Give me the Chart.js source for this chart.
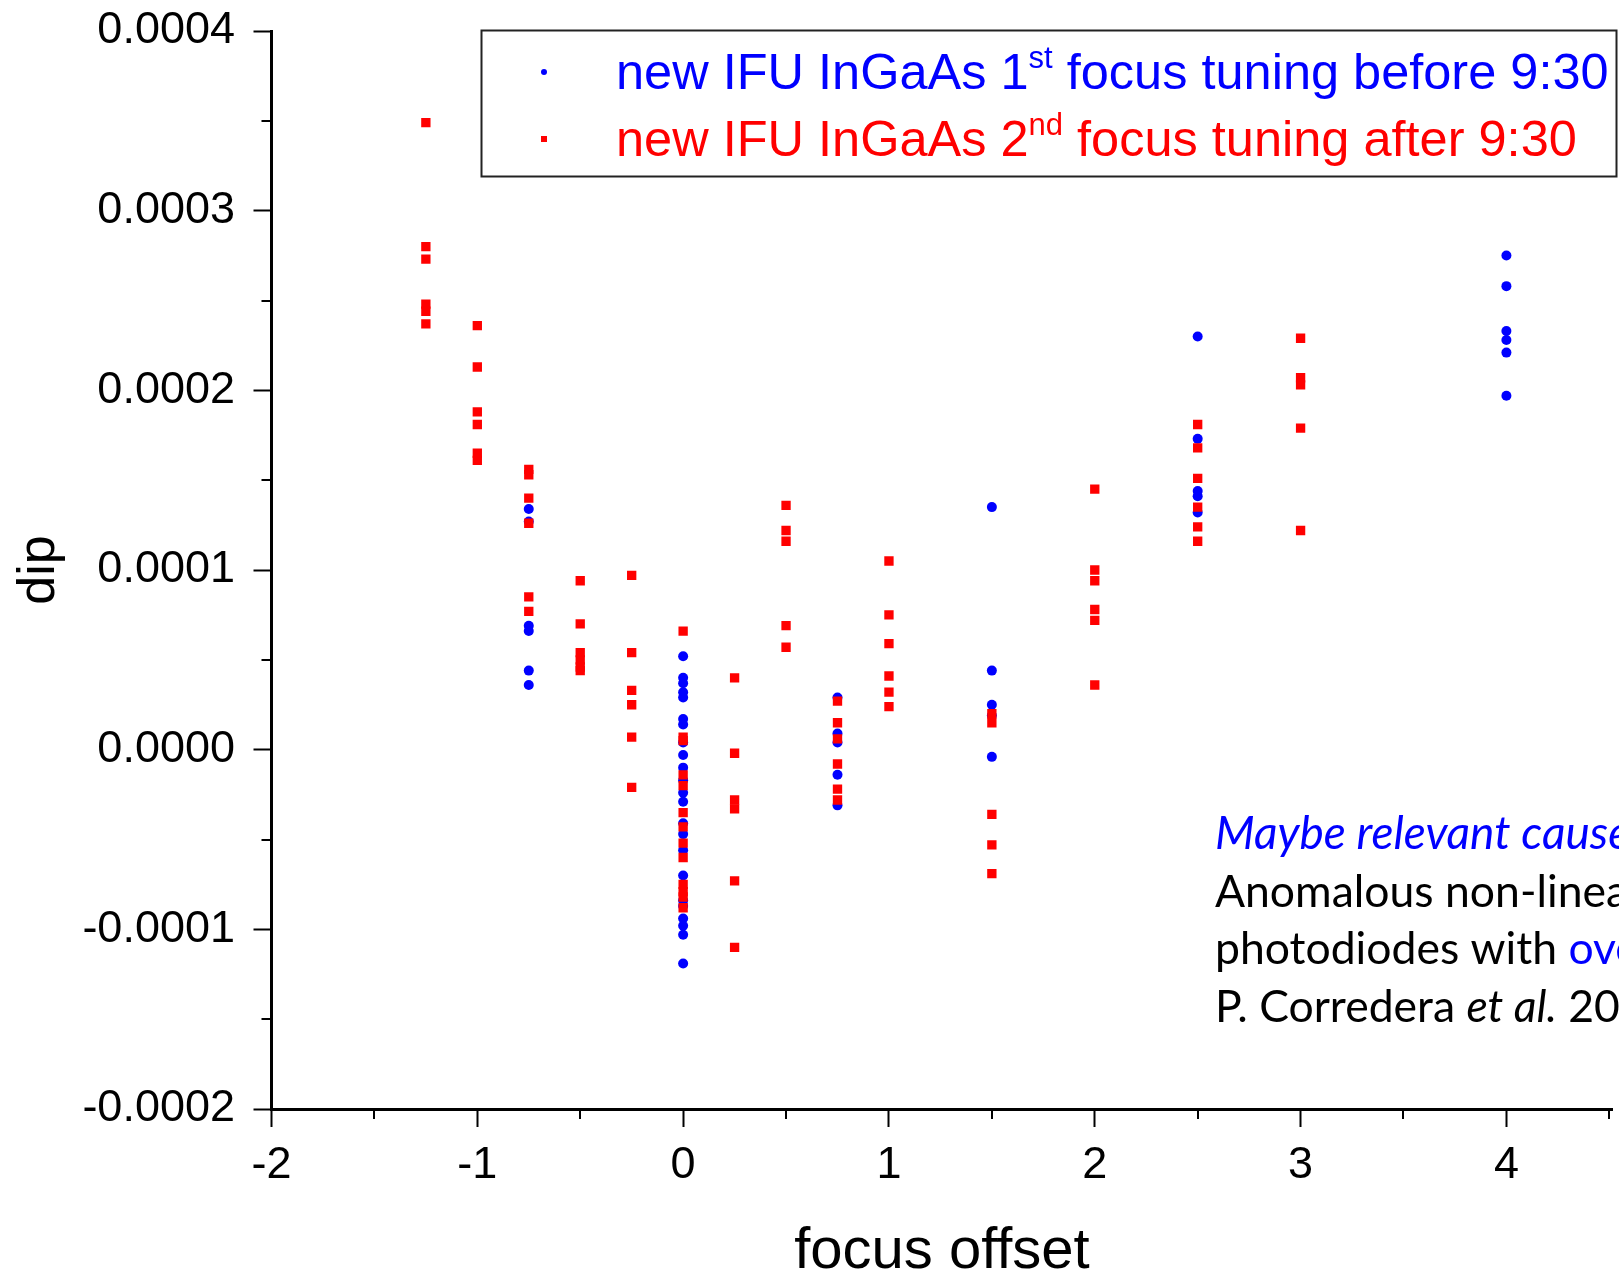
<!DOCTYPE html>
<html>
<head>
<meta charset="utf-8">
<script src="https://cdn.jsdelivr.net/npm/chart.js@4.4.0/dist/chart.umd.min.js"></script>
<style>
  html, body { margin: 0; padding: 0; background: #fff; }
  #wrap { width: 1619px; height: 1271px; }
</style>
</head>
<body>
<div id="wrap"><canvas id="dipChart" width="1619" height="1271"></canvas></div>
<script>
// focus offsets and measured dips, one list per offset
const blueOffsets = [-0.75, 0, 0.75, 1.5, 2.5, 4];
const blueDips = [
  [1.34e-4, 1.27e-4, 0.69e-4, 0.66e-4, 0.44e-4, 0.36e-4],
  [0.52e-4, 0.40e-4, 0.37e-4, 0.32e-4, 0.29e-4, 0.17e-4, 0.14e-4, 0.04e-4, -0.03e-4, -0.10e-4, -0.17e-4, -0.24e-4,
   -0.29e-4, -0.41e-4, -0.47e-4, -0.56e-4, -0.70e-4, -0.84e-4, -0.87e-4, -0.94e-4, -0.98e-4, -1.03e-4, -1.19e-4],
  [0.29e-4, 0.09e-4, 0.04e-4, -0.14e-4, -0.31e-4],
  [1.35e-4, 0.44e-4, 0.25e-4, 0.19e-4, -0.04e-4],
  [2.30e-4, 1.73e-4, 1.44e-4, 1.41e-4, 1.32e-4],
  [2.75e-4, 2.58e-4, 2.33e-4, 2.28e-4, 2.21e-4, 1.97e-4]
];

const redOffsets = [-1.25, -1, -0.75, -0.5, -0.25, 0, 0.25, 0.5, 0.75, 1, 1.5, 2, 2.5, 3];
const redDips = [
  [3.49e-4, 2.80e-4, 2.73e-4, 2.48e-4, 2.44e-4, 2.37e-4],
  [2.36e-4, 2.13e-4, 1.88e-4, 1.81e-4, 1.65e-4, 1.61e-4],
  [1.56e-4, 1.53e-4, 1.40e-4, 1.26e-4, 0.85e-4, 0.77e-4],
  [0.94e-4, 0.70e-4, 0.54e-4, 0.50e-4, 0.46e-4, 0.44e-4],
  [0.97e-4, 0.54e-4, 0.33e-4, 0.25e-4, 0.07e-4, -0.21e-4],
  [0.66e-4, 0.07e-4, 0.05e-4, -0.14e-4, -0.20e-4, -0.35e-4, -0.43e-4, -0.52e-4, -0.60e-4, -0.75e-4, -0.79e-4, -0.82e-4, -0.88e-4],
  [0.40e-4, -0.02e-4, -0.28e-4, -0.33e-4, -0.73e-4, -1.10e-4],
  [1.36e-4, 1.22e-4, 1.16e-4, 0.69e-4, 0.57e-4],
  [0.27e-4, 0.15e-4, 0.06e-4, -0.08e-4, -0.22e-4, -0.28e-4],
  [1.05e-4, 0.75e-4, 0.59e-4, 0.41e-4, 0.32e-4, 0.24e-4],
  [0.20e-4, 0.15e-4, -0.36e-4, -0.53e-4, -0.69e-4],
  [1.45e-4, 1.00e-4, 0.94e-4, 0.78e-4, 0.72e-4, 0.36e-4],
  [1.81e-4, 1.68e-4, 1.51e-4, 1.35e-4, 1.24e-4, 1.16e-4],
  [2.29e-4, 2.07e-4, 2.03e-4, 1.79e-4, 1.22e-4]
];

const xMajorTicks = [-2, -1, 0, 1, 2, 3, 4];
const xMinorTicks = [-1.5, -0.5, 0.5, 1.5, 2.5, 3.5, 4.5];
const yMajorTicks = [-0.0002, -0.0001, 0, 0.0001, 0.0002, 0.0003, 0.0004];
const yMinorTicks = [-0.00015, -0.00005, 0.00005, 0.00015, 0.00025, 0.00035];

const BLUE = '#0000ff';
const RED = '#ff0000';
const AXIS_FONT = '"Liberation Sans", Arial, sans-serif';
const NOTE_FONT = 'Lato, "Open Sans", sans-serif';

function toPoints(offsets, dips) {
  const pts = [];
  offsets.forEach((x, i) => dips[i].forEach(y => pts.push({ x: x, y: y })));
  return pts;
}

// legend box with superscripts, drawn by hand
const legendBox = {
  id: 'legendBox',
  afterDraw(chart) {
    const ctx = chart.ctx;
    ctx.save();
    ctx.strokeStyle = '#222';
    ctx.lineWidth = 2;
    ctx.strokeRect(481.5, 30.5, 1135, 146);

    ctx.fillStyle = BLUE;
    ctx.beginPath();
    ctx.arc(544, 72, 3, 0, Math.PI * 2);
    ctx.fill();
    ctx.fillStyle = RED;
    ctx.fillRect(541, 136, 6, 6);

    const rows = [
      { y: 89, color: BLUE, parts: ['new IFU InGaAs 1', 'st', ' focus tuning before 9:30'] },
      { y: 156, color: RED, parts: ['new IFU InGaAs 2', 'nd', ' focus tuning after 9:30'] }
    ];
    ctx.textBaseline = 'alphabetic';
    ctx.textAlign = 'left';
    rows.forEach(row => {
      let x = 616;
      ctx.fillStyle = row.color;
      row.parts.forEach((txt, k) => {
        const sup = k === 1;
        ctx.font = (sup ? '31px ' : '50.5px ') + AXIS_FONT;
        ctx.fillText(txt, x, sup ? row.y - 21 : row.y);
        x += ctx.measureText(txt).width;
      });
    });
    ctx.restore();
  }
};

// half-length ticks between the labelled ones
const minorTicks = {
  id: 'minorTicks',
  afterDraw(chart) {
    const ctx = chart.ctx, xs = chart.scales.x, ys = chart.scales.y;
    ctx.save();
    ctx.strokeStyle = '#000';
    ctx.lineWidth = 2;
    ctx.beginPath();
    xMinorTicks.forEach(v => {
      const px = Math.round(xs.getPixelForValue(v));
      if (px > chart.width) return;
      ctx.moveTo(px, xs.top);
      ctx.lineTo(px, xs.top + 10);
    });
    yMinorTicks.forEach(v => {
      const py = Math.round(ys.getPixelForValue(v));
      ctx.moveTo(ys.right, py);
      ctx.lineTo(ys.right - 10, py);
    });
    ctx.stroke();
    ctx.restore();
  }
};

// reference note in the lower right
const noteText = {
  id: 'noteText',
  afterDraw(chart) {
    const ctx = chart.ctx;
    const lines = [
      [{ t: 'Maybe relevant cause:', c: BLUE, i: true, s: 46 }],
      [{ t: 'Anomalous non-linear behaviour of InGaAs' }],
      [{ t: 'photodiodes with ' }, { t: 'overfilled illumination', c: BLUE }],
      [{ t: 'P. Corredera ' }, { t: 'et al.', i: true }, { t: ' 2003, Metrologia 40, S150' }]
    ];
    ctx.save();
    ctx.textBaseline = 'alphabetic';
    ctx.textAlign = 'left';
    lines.forEach((segs, row) => {
      let x = 1215;
      const y = 849 + row * 57.5;
      segs.forEach(s => {
        ctx.font = (s.i ? 'italic ' : '') + (s.s || 44.5) + 'px ' + NOTE_FONT;
        ctx.fillStyle = s.c || '#000';
        ctx.fillText(s.t, x, y);
        x += ctx.measureText(s.t).width;
      });
    });
    ctx.restore();
  }
};

const ctx = document.getElementById('dipChart').getContext('2d');
new Chart(ctx, {
  type: 'scatter',
  data: {
    datasets: [
      {
        label: 'new IFU InGaAs 1st focus tuning before 9:30',
        data: toPoints(blueOffsets, blueDips),
        pointStyle: 'circle',
        pointRadius: 5,
        pointBorderWidth: 0,
        backgroundColor: BLUE,
        borderColor: BLUE,
        order: 2
      },
      {
        label: 'new IFU InGaAs 2nd focus tuning after 9:30',
        data: toPoints(redOffsets, redDips),
        pointStyle: 'rect',
        pointRadius: 6.6,
        pointBorderWidth: 0,
        backgroundColor: RED,
        borderColor: RED,
        order: 1
      }
    ]
  },
  options: {
    responsive: false,
    animation: false,
    layout: { padding: { left: 0, top: 31, right: 0, bottom: 0 } },
    plugins: {
      legend: { display: false },
      tooltip: { enabled: false }
    },
    scales: {
      x: {
        type: 'linear',
        min: -2,
        max: 4.515,
        afterBuildTicks: scale => {
          scale.ticks = xMajorTicks.map(v => ({ value: v }));
        },
        afterFit: scale => {
          scale.height = 162;
          scale.paddingLeft = 0;
          scale.paddingRight = 0;
        },
        ticks: {
          padding: 12,
          color: '#000',
          font: { family: AXIS_FONT, size: 45 },
          maxRotation: 0
        },
        grid: { drawOnChartArea: false, drawTicks: true, tickLength: 18, tickWidth: 2, tickColor: '#000' },
        border: { display: true, width: 3, color: '#000' },
        title: {
          display: true,
          text: 'focus offset',
          color: '#000',
          font: { family: AXIS_FONT, size: 58, lineHeight: 1 },
          padding: { top: 0, bottom: -10 }
        }
      },
      y: {
        type: 'linear',
        min: -0.0002,
        max: 0.0004,
        afterBuildTicks: scale => {
          scale.ticks = yMajorTicks.map(v => ({ value: v }));
        },
        afterFit: scale => {
          scale.width = 271.5;
          scale.paddingTop = 0;
          scale.paddingBottom = 0;
        },
        ticks: {
          padding: 18.5,
          color: '#000',
          font: { family: AXIS_FONT, size: 45 },
          callback: v => v.toFixed(4)
        },
        grid: { drawOnChartArea: false, drawTicks: true, tickLength: 18, tickWidth: 2, tickColor: '#000' },
        border: { display: true, width: 3, color: '#000' },
        title: {
          display: true,
          text: 'dip',
          color: '#000',
          font: { family: AXIS_FONT, size: 52, lineHeight: 1 },
          padding: { top: 14, bottom: 0 }
        }
      }
    }
  },
  plugins: [minorTicks, legendBox, noteText]
});
</script>
</body>
</html>
